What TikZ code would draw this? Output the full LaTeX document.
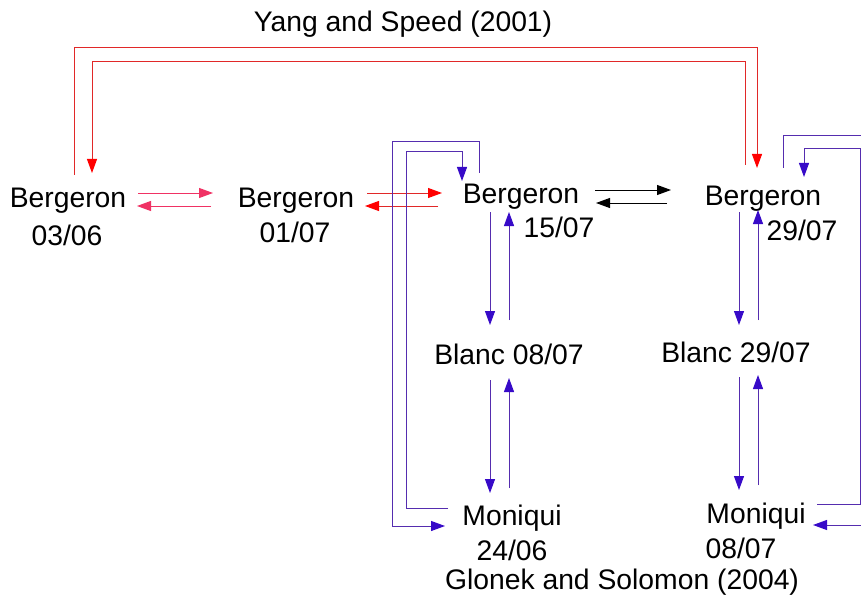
\documentclass[tikz,border=0pt]{standalone}
\usepackage{fontspec}
\setmainfont{Liberation Sans}
\usetikzlibrary{arrows.meta}
\definecolor{redln}{RGB}{225,40,40}
\definecolor{redhd}{RGB}{255,0,0}
\definecolor{pinkln}{RGB}{240,50,100}
\definecolor{purln}{RGB}{85,45,175}
\definecolor{purhd}{RGB}{55,10,200}
\tikzset{
  lbl/.style={font=\fontsize{28.3}{30}\selectfont, inner sep=0pt, anchor=base},
  redarr/.style={draw=redln, line width=1pt, -{Triangle[length=14pt,width=10pt,color=redhd]}},
  pinkarr/.style={draw=pinkln, line width=1pt, -{Triangle[length=14pt,width=10pt,color=pinkln]}},
  blkarr/.style={draw=black, line width=1pt, -{Triangle[length=14pt,width=10pt,color=black]}},
  purarr/.style={draw=purln, line width=1pt, -{Triangle[length=14pt,width=10pt,color=purhd]}}
}
\begin{document}
\begin{tikzpicture}[x=1pt,y=-1pt]
\useasboundingbox (0,0) rectangle (861,596);
\clip (0,0) rectangle (861,596);
\fill[white] (0,0) rectangle (861,596);
% texts
\node[lbl] (t1) at (403,32) {Yang and Speed (2001)};
\node[lbl] (b1) at (68,207) {Bergeron};
\node[lbl] (d1) at (67,245) {03/06};
\node[lbl] (b2) at (296,207) {Bergeron};
\node[lbl] (d2) at (295,242) {01/07};
\node[lbl] (b3) at (521,203) {Bergeron};
\node[lbl] (d3) at (559,237) {15/07};
\node[lbl] (b4) at (763,205) {Bergeron};
\node[lbl] (d4) at (802,240) {29/07};
\node[lbl] (bl1) at (509,364) {Blanc 08/07};
\node[lbl] (bl2) at (736,362) {Blanc 29/07};
\node[lbl] (m1) at (512,525) {Moniqui};
\node[lbl] (md1) at (512,560) {24/06};
\node[lbl] (m2) at (756,523) {Moniqui};
\node[lbl] (md2) at (741,558) {08/07};
\node[lbl] (t2) at (622,589) {Glonek and Solomon (2004)};
% named end points
\coordinate (b1top) at (74,175);
\coordinate (b1in) at (92,173);
\coordinate (b4top) at (745,165);
\coordinate (b4in) at (757,168);
\coordinate (b1e1) at (138,193); \coordinate (b2w1) at (213,193);
\coordinate (b2w2) at (211,206); \coordinate (b1e2) at (137,206);
\coordinate (b2e1) at (367,193); \coordinate (b3w1) at (442,193);
\coordinate (b3w2) at (438,206); \coordinate (b2e2) at (365,206);
\coordinate (b3e1) at (595,190); \coordinate (b4w1) at (671,190);
\coordinate (b4w2) at (667,203); \coordinate (b3e2) at (596,203);
\coordinate (b3s1) at (490,212); \coordinate (bl1n1) at (490,325);
\coordinate (bl1n2) at (509,320); \coordinate (b3s2) at (509,212);
\coordinate (bl1s1) at (490,380); \coordinate (m1n1) at (490,493);
\coordinate (m1n2) at (509,488); \coordinate (bl1s2) at (509,378);
\coordinate (b4s1) at (739,212); \coordinate (bl2n1) at (739,325);
\coordinate (bl2n2) at (758,320); \coordinate (b4s2) at (758,210);
\coordinate (bl2s1) at (739,377); \coordinate (m2n1) at (739,490);
\coordinate (m2n2) at (758,485); \coordinate (bl2s2) at (758,375);
\coordinate (b3top) at (479,173); \coordinate (m1w1) at (445,526);
\coordinate (m1w2) at (448,508); \coordinate (b3in) at (462,181);
\coordinate (b4top2) at (783,168); \coordinate (m2e1) at (813,525);
\coordinate (m2e2) at (817,504); \coordinate (b4in2) at (804,177);
% red long connectors
\draw[redarr] (b1top) |- (757,48) -- (b4in);
\draw[redarr] (b4top) |- (92,62) -- (b1in);
% horizontal pairs
\draw[pinkarr] (b1e1) -- (b2w1);
\draw[pinkarr] (b2w2) -- (b1e2);
\draw[redarr] (b2e1) -- (b3w1);
\draw[redarr] (b3w2) -- (b2e2);
\draw[blkarr] (b3e1) -- (b4w1);
\draw[blkarr] (b4w2) -- (b3e2);
% vertical purple pairs
\draw[purarr] (b3s1) -- (bl1n1);
\draw[purarr] (bl1n2) -- (b3s2);
\draw[purarr] (bl1s1) -- (m1n1);
\draw[purarr] (m1n2) -- (bl1s2);
\draw[purarr] (b4s1) -- (bl2n1);
\draw[purarr] (bl2n2) -- (b4s2);
\draw[purarr] (bl2s1) -- (m2n1);
\draw[purarr] (m2n2) -- (bl2s2);
% loops
\draw[purarr] (b3top) -- (479,142) -- (392,142) -- (392,526) -- (m1w1);
\draw[purarr] (m1w2) -- (406,508) -- (406,152) -- (462,152) -- (b3in);
\draw[purarr] (b4top2) -- (783,136) -- (875,136) -- (875,525) -- (m2e1);
\draw[purarr] (m2e2) -- (860,504) -- (860,149) -- (804,149) -- (b4in2);
\end{tikzpicture}
\end{document}
